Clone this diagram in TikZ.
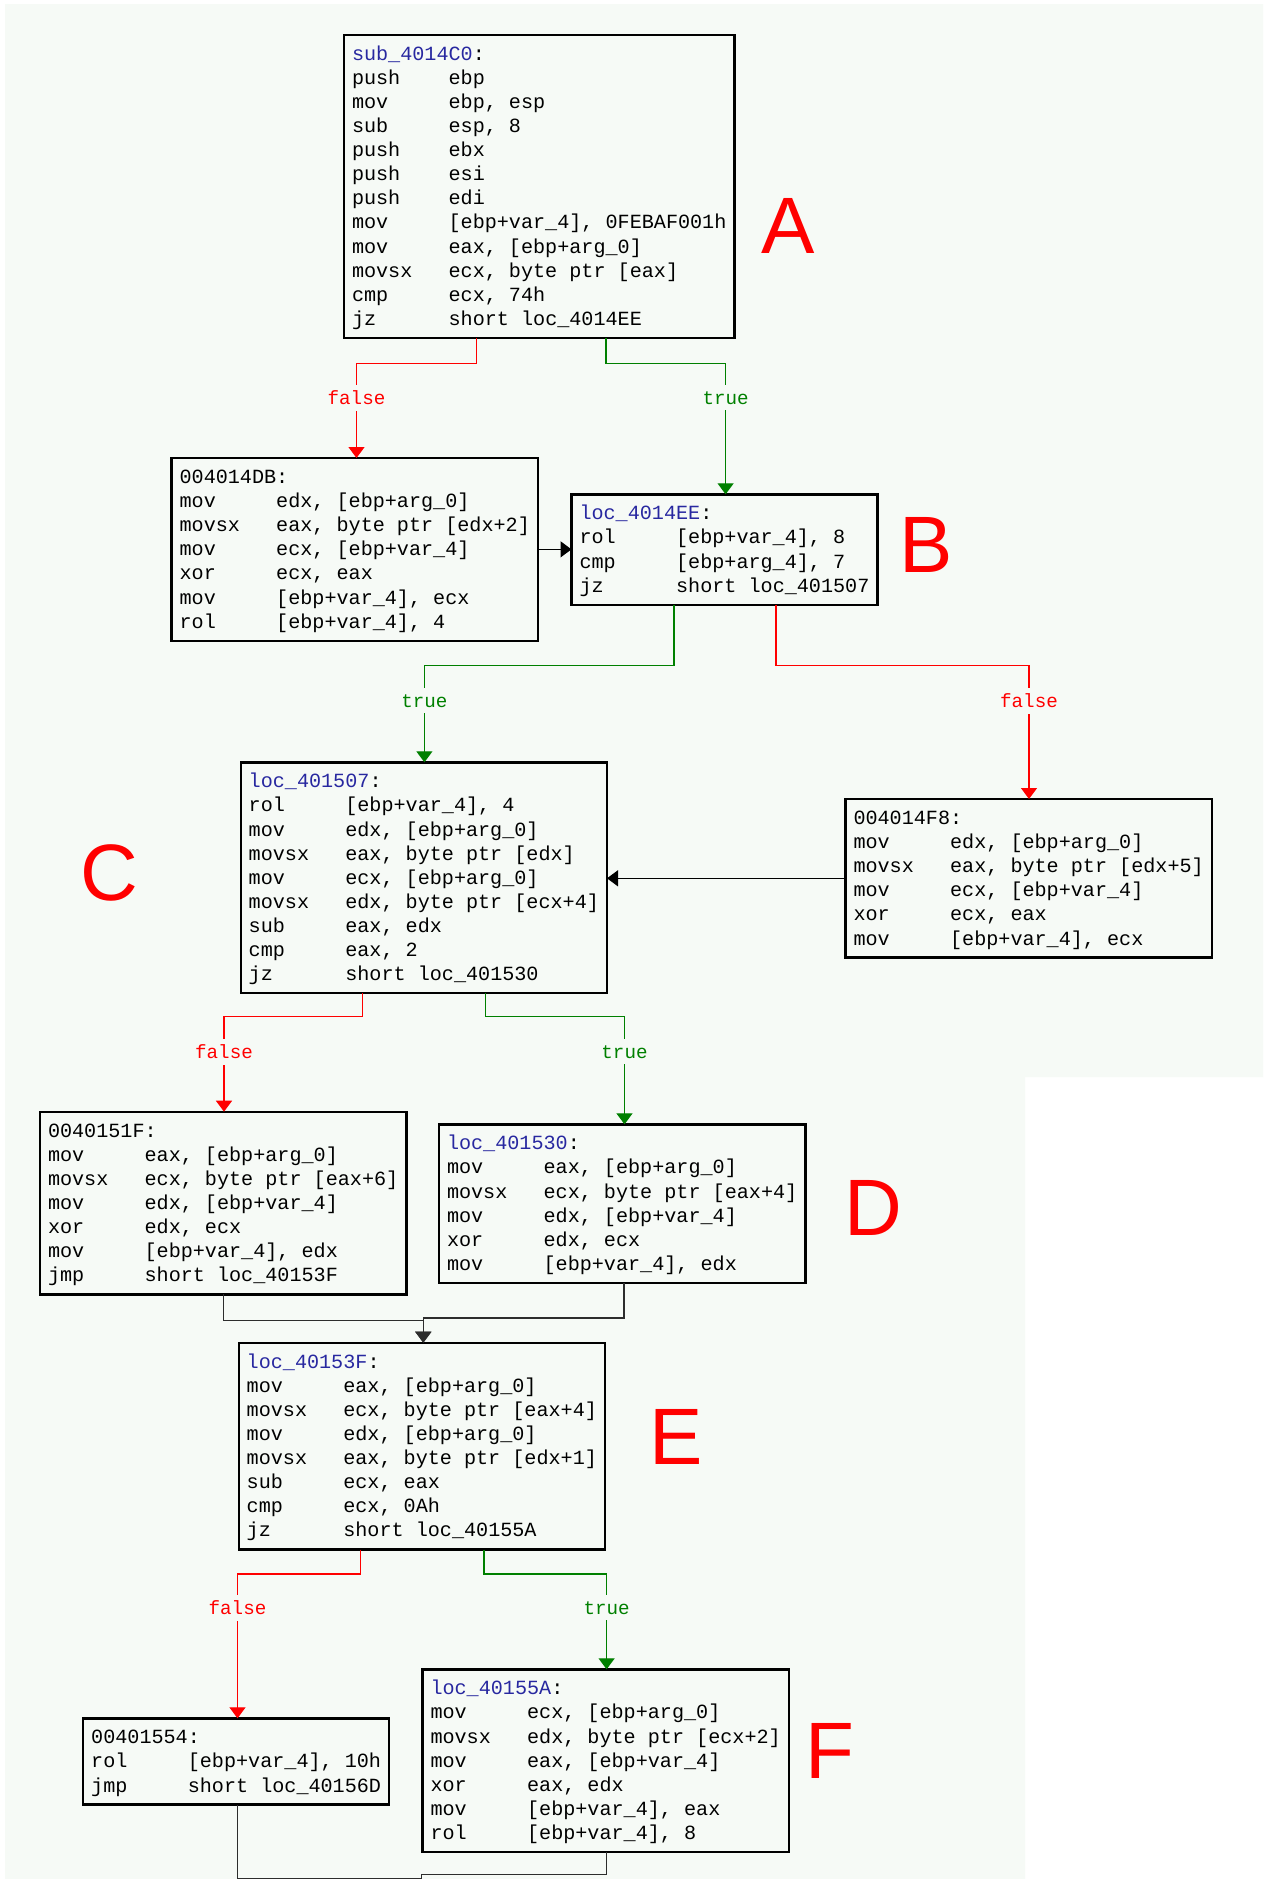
\documentclass[tikz,border=0pt]{standalone}
\usepackage{fontspec}
\setmainfont{Liberation Sans}
\newfontfamily\asmfont{Liberation Mono}
\usetikzlibrary{arrows.meta}
\definecolor{bgc}{RGB}{246,250,246}
\definecolor{lblue}{RGB}{40,40,160}
\definecolor{tgreen}{RGB}{0,128,0}
\definecolor{fred}{RGB}{255,0,0}
\definecolor{ugray}{RGB}{45,45,45}
\newcommand\ls{\rule[-5.6pt]{0pt}{24.1pt}}
\newcommand\ins[2]{\ls\makebox[4.8em][l]{#1}#2}
\newcommand\lab[1]{\ls\textcolor{lblue}{#1}:}
\newcommand\adr[1]{\ls #1:}
\tikzset{
  blk/.style={draw=black, line width=2.4pt, fill=bgc, anchor=north west, align=left,
    inner xsep=8pt, inner ysep=7pt, outer sep=0pt, text=black,
    font=\asmfont\fontsize{20.13pt}{24.1pt}\selectfont},
  edg/.style={line width=1.3pt, -{Triangle[width=16pt,length=11pt]}},
  fe/.style={edg, draw=fred},
  te/.style={edg, draw=tgreen},
  ue/.style={edg, draw=ugray},
  flab/.style={fill=bgc, inner xsep=1pt, inner ysep=6pt, font=\asmfont\fontsize{19.2pt}{20pt}\selectfont},
  big/.style={inner sep=0pt, text=fred, font=\fontsize{80pt}{80pt}\selectfont}
}
\begin{document}
\begin{tikzpicture}[x=1pt, y=-1pt]
\useasboundingbox (0,0) rectangle (1268,1879);
\fill[white] (0,0) rectangle (1268,1879);
\fill[bgc] (5,4) -- (1263,4) -- (1263,1077) -- (1025,1077) -- (1025,1879) -- (5,1879) -- cycle;

% blocks
\node[blk] (A) at (344,34.7) {\lab{sub\_4014C0}\\
\ins{push}{ebp}\\
\ins{mov}{ebp, esp}\\
\ins{sub}{esp, 8}\\
\ins{push}{ebx}\\
\ins{push}{esi}\\
\ins{push}{edi}\\
\ins{mov}{[ebp+var\_4], 0FEBAF001h}\\
\ins{mov}{eax, [ebp+arg\_0]}\\
\ins{movsx}{ecx, byte ptr [eax]}\\
\ins{cmp}{ecx, 74h}\\
\ins{jz}{short loc\_4014EE}};

\node[blk] (A2) at (171.6,458) {\adr{004014DB}\\
\ins{mov}{edx, [ebp+arg\_0]}\\
\ins{movsx}{eax, byte ptr [edx+2]}\\
\ins{mov}{ecx, [ebp+var\_4]}\\
\ins{xor}{ecx, eax}\\
\ins{mov}{[ebp+var\_4], ecx}\\
\ins{rol}{[ebp+var\_4], 4}};

\node[blk] (B) at (571.5,494.3) {\lab{loc\_4014EE}\\
\ins{rol}{[ebp+var\_4], 8}\\
\ins{cmp}{[ebp+arg\_4], 7}\\
\ins{jz}{short loc\_401507}};

\node[blk] (B2) at (845.5,799) {\adr{004014F8}\\
\ins{mov}{edx, [ebp+arg\_0]}\\
\ins{movsx}{eax, byte ptr [edx+5]}\\
\ins{mov}{ecx, [ebp+var\_4]}\\
\ins{xor}{ecx, eax}\\
\ins{mov}{[ebp+var\_4], ecx}};

\node[blk] (C) at (240.7,762.3) {\lab{loc\_401507}\\
\ins{rol}{[ebp+var\_4], 4}\\
\ins{mov}{edx, [ebp+arg\_0]}\\
\ins{movsx}{eax, byte ptr [edx]}\\
\ins{mov}{ecx, [ebp+arg\_0]}\\
\ins{movsx}{edx, byte ptr [ecx+4]}\\
\ins{sub}{eax, edx}\\
\ins{cmp}{eax, 2}\\
\ins{jz}{short loc\_401530}};

\node[blk] (C2) at (40,1111.7) {\adr{0040151F}\\
\ins{mov}{eax, [ebp+arg\_0]}\\
\ins{movsx}{ecx, byte ptr [eax+6]}\\
\ins{mov}{edx, [ebp+var\_4]}\\
\ins{xor}{edx, ecx}\\
\ins{mov}{[ebp+var\_4], edx}\\
\ins{jmp}{short loc\_40153F}};

\node[blk] (D) at (439,1124.3) {\lab{loc\_401530}\\
\ins{mov}{eax, [ebp+arg\_0]}\\
\ins{movsx}{ecx, byte ptr [eax+4]}\\
\ins{mov}{edx, [ebp+var\_4]}\\
\ins{xor}{edx, ecx}\\
\ins{mov}{[ebp+var\_4], edx}};

\node[blk] (E) at (238.7,1342.7) {\lab{loc\_40153F}\\
\ins{mov}{eax, [ebp+arg\_0]}\\
\ins{movsx}{ecx, byte ptr [eax+4]}\\
\ins{mov}{edx, [ebp+arg\_0]}\\
\ins{movsx}{eax, byte ptr [edx+1]}\\
\ins{sub}{ecx, eax}\\
\ins{cmp}{ecx, 0Ah}\\
\ins{jz}{short loc\_40155A}};

\node[blk] (E2) at (83.2,1718.3) {\adr{00401554}\\
\ins{rol}{[ebp+var\_4], 10h}\\
\ins{jmp}{short loc\_40156D}};

\node[blk] (F) at (422.5,1669.3) {\lab{loc\_40155A}\\
\ins{mov}{ecx, [ebp+arg\_0]}\\
\ins{movsx}{edx, byte ptr [ecx+2]}\\
\ins{mov}{eax, [ebp+var\_4]}\\
\ins{xor}{eax, edx}\\
\ins{mov}{[ebp+var\_4], eax}\\
\ins{rol}{[ebp+var\_4], 8}};

\coordinate (out) at (421.6,1895);

% connectors
\draw[fe] ([xshift=132.6pt]A.south west) -- ++(0,25.3) -| ([xshift=184.9pt]A2.north west);
\draw[te] ([xshift=262pt]A.south west) -- ++(0,25.3) -| ([xshift=154.1pt]B.north west);
\draw[edg, draw=black] (A2.east) -- (A2.east -| B.west);
\draw[te] ([xshift=102.5pt]B.south west) -- ++(0,61) -| ([xshift=183.7pt]C.north west);
\draw[fe] ([xshift=204.5pt]B.south west) -- ++(0,61) -| ([xshift=183.5pt]B2.north west);
\draw[edg, draw=black] (B2.west) -- (B2.west -| C.east);
\draw[fe] ([xshift=121.9pt]C.south west) -- ++(0,23.6) -| ([xshift=184pt]C2.north west);
\draw[te] ([xshift=245pt]C.south west) -- ++(0,23.6) -| ([xshift=185.5pt]D.north west);
\draw[ue] ([xshift=183.3pt]C2.south west) -- ++(0,26.4) -| ([xshift=184.6pt]E.north west);
\draw[ue] ([xshift=185pt]D.south west) -- ++(0,35) -| ([xshift=184.6pt]E.north west);
\draw[fe] ([xshift=121.8pt]E.south west) -- ++(0,24.6) -| ([xshift=154.3pt]E2.north west);
\draw[te] ([xshift=245.3pt]E.south west) -- ++(0,24.6) -| ([xshift=184.1pt]F.north west);
\draw[line width=1.3pt, draw=ugray] ([xshift=154.3pt]E2.south west) -- ++(0,73.7) -| (out);
\draw[line width=1.3pt, draw=ugray] ([xshift=184.1pt]F.south west) -- ++(0,22.3) -| (out);

% edge labels
\node[flab, text=fred] (l1) at (356.5,397.7) {false};
\node[flab, text=tgreen] (l2) at (725.6,397.7) {true};
\node[flab, text=tgreen] (l3) at (424.4,700.7) {true};
\node[flab, text=fred] (l4) at (1029,700.7) {false};
\node[flab, text=fred] (l5) at (224,1051.7) {false};
\node[flab, text=tgreen] (l6) at (624.5,1051.7) {true};
\node[flab, text=fred] (l7) at (237.5,1607.7) {false};
\node[flab, text=tgreen] (l8) at (606.6,1607.7) {true};

% big letters
\node[big] (LA) at (788,226) {A};
\node[big] (LB) at (926,545) {B};
\node[big] (LC) at (109,873) {C};
\node[big] (LD) at (873,1208) {D};
\node[big] (LE) at (676.5,1437) {E};
\node[big] (LF) at (830,1751) {F};
\end{tikzpicture}
\end{document}
